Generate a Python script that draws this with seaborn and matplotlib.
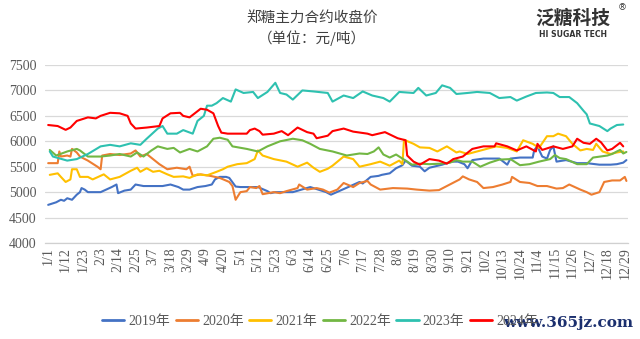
import matplotlib
matplotlib.use("Agg")
import matplotlib.pyplot as plt
import seaborn as sns
import pandas as pd

# ---------------- data ----------------
years = ["2019年", "2020年", "2021年", "2022年", "2023年", "2024年"]
colors = ["#4472C4", "#ED7D31", "#FFC000", "#72B743", "#2EC1B0", "#FF0000"]

tick_labels = ["1/1", "1/12", "1/23", "2/3", "2/14", "2/25", "3/7", "3/18", "3/29",
               "4/9", "4/20", "5/1", "5/12", "5/23", "6/3", "6/14", "6/25", "7/6",
               "7/17", "7/28", "8/8", "8/19", "8/30", "9/10", "9/21", "10/2",
               "10/13", "10/24", "11/4", "11/15", "11/26", "12/7", "12/18", "12/29"]
y_ticks = [4000, 4500, 5000, 5500, 6000, 6500, 7000, 7500]

days_2019 = [0, 5, 8, 10, 12, 15, 18, 20, 21, 23, 25, 33, 40, 43, 44, 48, 52, 55, 60, 66,
             72, 77, 82, 85, 89, 94, 99, 103, 105, 108, 112, 114, 118, 121, 132, 138, 140,
             143, 154, 165, 175, 178, 186, 196, 198, 203, 208, 210, 215, 219, 223, 225,
             229, 234, 237, 240, 248, 254, 258, 262, 264, 267, 274, 284, 289, 291, 297,
             305, 306, 308, 311, 314, 316, 318, 320, 326, 333, 339, 347, 354, 358, 362, 364]
vals_2019 = [4750, 4800, 4850, 4830, 4880, 4850, 4950, 5000, 5080, 5050, 5000, 5000, 5100,
             5150, 4980, 5030, 5050, 5150, 5120, 5120, 5120, 5150, 5100, 5050, 5050, 5100,
             5120, 5150, 5250, 5300, 5300, 5280, 5110, 5100, 5100, 5020, 4980, 5000, 5000,
             5100, 5000, 4950, 5060, 5200, 5170, 5300, 5320, 5340, 5370, 5470, 5530, 5620,
             5520, 5500, 5410, 5480, 5540, 5600, 5600, 5550, 5470, 5630, 5660, 5660, 5540,
             5660, 5680, 5680, 5830, 5900, 5700, 5660, 5830, 5900, 5600, 5630, 5570, 5570,
             5540, 5540, 5550, 5580, 5630]

days_2020 = [0, 6, 7, 8, 12, 14, 15, 18, 20, 25, 31, 33, 34, 39, 45, 52, 55, 58, 62, 66,
             70, 75, 81, 87, 89, 91, 96, 102, 108, 114, 116, 118, 121, 125, 127, 131, 133,
             135, 142, 146, 150, 157, 158, 163, 169, 173, 177, 182, 186, 192, 196, 201,
             203, 209, 217, 226, 232, 240, 246, 259, 261, 265, 270, 274, 280, 286, 291,
             292, 297, 303, 308, 314, 320, 324, 328, 335, 339, 342, 347, 350, 355, 360,
             363, 364]
vals_2020 = [5570, 5570, 5800, 5700, 5720, 5700, 5850, 5780, 5700, 5620, 5500, 5450, 5720,
             5750, 5730, 5760, 5820, 5700, 5750, 5650, 5550, 5450, 5480, 5450, 5500, 5320,
             5350, 5320, 5280, 5200, 5120, 4850, 5000, 5020, 5100, 5080, 5120, 4960, 5000,
             4980, 5020, 5080, 5150, 5050, 5080, 5050, 4990, 5050, 5180, 5100, 5180, 5220,
             5150, 5050, 5080, 5070, 5050, 5030, 5040, 5250, 5310, 5250, 5200, 5080, 5100,
             5150, 5200, 5300, 5200, 5180, 5120, 5120, 5070, 5080, 5150, 5050, 5000, 4950,
             5000, 5200, 5230, 5230, 5300, 5220]

days_2021 = [1, 6, 8, 11, 14, 15, 18, 20, 25, 28, 35, 39, 45, 52, 56, 58, 62, 66, 70, 75,
             79, 85, 89, 94, 100, 106, 110, 113, 119, 125, 130, 132, 135, 142, 150, 157,
             163, 167, 171, 176, 179, 186, 192, 196, 203, 209, 215, 221, 223, 224, 230,
             234, 240, 245, 251, 257, 259, 264, 270, 276, 282, 289, 295, 299, 305, 309,
             314, 318, 321, 326, 330, 335, 339, 343, 345, 349, 354, 358, 362]
vals_2021 = [5340, 5370, 5300, 5200, 5250, 5450, 5450, 5300, 5300, 5250, 5350, 5250, 5300,
             5420, 5480, 5400, 5470, 5400, 5420, 5350, 5300, 5310, 5280, 5350, 5330, 5400,
             5450, 5500, 5550, 5570, 5650, 5820, 5720, 5650, 5600, 5500, 5580, 5480, 5400,
             5460, 5520, 5700, 5650, 5500, 5550, 5600, 5520, 5620, 5550, 6030, 5950, 5880,
             5870, 5800, 5900, 5780, 5800, 5750, 5800, 5850, 5900, 5870, 5800, 6020, 5950,
             5870, 6100, 6100, 6150, 6100, 5950, 5820, 5850, 5830, 5950, 5800, 5750, 5780,
             5800]

days_2022 = [1, 5, 12, 18, 20, 25, 33, 39, 45, 52, 56, 60, 65, 69, 75, 79, 83, 89, 94,
             100, 104, 108, 113, 116, 125, 132, 138, 146, 154, 160, 165, 171, 179, 188,
             196, 201, 205, 208, 211, 215, 219, 224, 229, 234, 240, 247, 253, 257, 261,
             267, 272, 278, 284, 291, 297, 303, 309, 316, 319, 322, 326, 333, 339, 343,
             352, 355, 358, 360, 362, 364]
vals_2022 = [5830, 5720, 5800, 5850, 5820, 5700, 5700, 5720, 5750, 5700, 5780, 5700, 5820,
             5900, 5850, 5870, 5780, 5850, 5800, 5900, 6050, 6070, 6030, 5900, 5850, 5800,
             5900, 6000, 6050, 6020, 5950, 5850, 5800, 5720, 5760, 5750, 5800, 5880, 5740,
             5680, 5740, 5640, 5540, 5560, 5550, 5560, 5580, 5630, 5600, 5600, 5500, 5580,
             5640, 5650, 5530, 5550, 5600, 5650, 5730, 5670, 5650, 5550, 5550, 5680, 5720,
             5750, 5800, 5830, 5760, 5790]

days_2023 = [1, 3, 12, 18, 25, 33, 39, 45, 52, 58, 62, 69, 72, 75, 81, 85, 91, 94, 98,
             100, 103, 106, 110, 115, 118, 123, 129, 132, 138, 143, 146, 150, 154, 160,
             167, 176, 179, 186, 192, 198, 204, 211, 215, 221, 230, 233, 238, 244, 248,
             253, 257, 264, 270, 278, 284, 291, 295, 301, 307, 314, 318, 322, 328, 333,
             337, 339, 341, 347, 352, 354, 358, 362]
vals_2023 = [5800, 5700, 5620, 5650, 5750, 5900, 5930, 5900, 5960, 5930, 6050, 6250, 6300,
             6150, 6150, 6220, 6150, 6400, 6500, 6700, 6700, 6750, 6850, 6780, 7020, 6950,
             6970, 6850, 6970, 7150, 6950, 6920, 6820, 7000, 6980, 6950, 6780, 6900, 6850,
             6980, 6900, 6850, 6780, 6970, 6950, 7050, 6900, 6950, 7100, 7050, 6930, 6950,
             6970, 6950, 6850, 6870, 6800, 6880, 6950, 6960, 6950, 6870, 6870, 6750, 6600,
             6530, 6350, 6300, 6200, 6250, 6320, 6330]

days_2024 = [0, 6, 11, 14, 18, 25, 30, 33, 39, 45, 50, 52, 55, 62, 70, 72, 77, 83, 85,
             89, 96, 100, 104, 107, 109, 113, 125, 127, 130, 133, 135, 142, 147, 151, 157,
             163, 167, 169, 176, 179, 186, 192, 201, 204, 212, 220, 225, 226, 230, 234,
             240, 246, 251, 255, 261, 267, 274, 281, 282, 289, 295, 301, 307, 308, 311,
             318, 324, 330, 333, 337, 341, 345, 348, 352, 355, 360, 362]
vals_2024 = [6320, 6300, 6225, 6270, 6400, 6470, 6450, 6500, 6560, 6550, 6500, 6350, 6250,
             6270, 6300, 6450, 6550, 6560, 6500, 6470, 6640, 6620, 6550, 6300, 6170, 6150,
             6150, 6220, 6250, 6200, 6130, 6150, 6200, 6120, 6270, 6180, 6150, 6060, 6110,
             6200, 6250, 6190, 6150, 6120, 6180, 6060, 6020, 5720, 5600, 5540, 5650, 5620,
             5560, 5650, 5700, 5850, 5900, 5900, 5960, 5900, 5820, 5900, 5800, 5950, 5830,
             5900, 5850, 5900, 6050, 5970, 5950, 6050, 5980, 5820, 5850, 5970, 5900]

series_days = [days_2019, days_2020, days_2021, days_2022, days_2023, days_2024]
series_vals = [vals_2019, vals_2020, vals_2021, vals_2022, vals_2023, vals_2024]

frames = []
for yr, d, v in zip(years, series_days, series_vals):
    frames.append(pd.DataFrame({"day": d, "price": v, "year": yr}))
df = pd.concat(frames, ignore_index=True)

# ---------------- style ----------------
sns.set_style("white")
plt.rcParams["font.family"] = ["Liberation Serif", "Noto Sans CJK SC", "DejaVu Sans"]

fig = plt.figure(figsize=(6.4, 3.39), dpi=100)
ax = fig.add_axes([45 / 640, 1 - 243 / 339, (628 - 45) / 640, (243 - 65) / 339])

palette = dict(zip(years, colors))
sns.lineplot(data=df, x="day", y="price", hue="year", hue_order=years,
             palette=palette, linewidth=1.5, estimator=None, ax=ax, legend=False)

ax.set_xlim(-2, 365)
ax.set_ylim(4000, 7500)
ax.set_yticks(y_ticks)
ax.set_yticklabels([str(t) for t in y_ticks])
tick_pos = [i * 11 for i in range(len(tick_labels))]
ax.set_xticks(tick_pos)
ax.set_xticklabels(tick_labels, rotation=90)
ax.tick_params(axis="both", length=0, labelsize=10, labelcolor="#595959")
ax.tick_params(axis="x", pad=3)
ax.tick_params(axis="y", pad=6)
ax.set_xlabel("")
ax.set_ylabel("")
ax.grid(axis="y", color="#d9d9d9", linewidth=0.9)
ax.set_axisbelow(True)
for s in ["top", "right", "left"]:
    ax.spines[s].set_visible(False)
ax.spines["bottom"].set_color("#d0d0d0")
ax.spines["bottom"].set_linewidth(0.9)

# legend
handles = ax.get_lines()[:len(years)]
leg = fig.legend(handles, years, loc="center", bbox_to_anchor=(0.50, 0.053), ncol=6,
                 frameon=False, handlelength=1.6, handletextpad=0.3, columnspacing=0.4,
                 prop={"family": ["Liberation Serif", "Noto Sans CJK SC"], "size": 10},
                 labelcolor="#595959")
for h in leg.get_lines():
    h.set_linewidth(2.0)

# titles
fig.text(0.488, 0.947, "郑糖主力合约收盘价", ha="center", va="center",
         fontsize=10.5, color="#404040", family=["Noto Sans CJK SC", "DejaVu Sans"])
fig.text(0.488, 0.888, "（单位：元/吨）", ha="center", va="center",
         fontsize=10.5, color="#404040", family=["Noto Sans CJK SC", "DejaVu Sans"])

# logo
fig.text(0.895, 0.947, "泛糖科技", ha="center", va="center", fontsize=13.5,
         fontweight="bold", color="#333333", family=["Noto Sans CJK SC", "DejaVu Sans"])
fig.text(0.972, 0.978, "®", ha="center", va="center", fontsize=6.5,
         color="#333333", family=["DejaVu Sans"])
fig.text(0.895, 0.898, "HI SUGAR TECH", ha="center", va="center", fontsize=5.6,
         fontweight="bold", color="#333333", family=["DejaVu Sans"])

# watermark
fig.text(0.990, 0.046, "www.365jz.com", ha="right", va="center", fontsize=11,
         fontweight="bold", color="#1b2f6e", family=["DejaVu Serif"])

fig.savefig("out.png", dpi=100)
